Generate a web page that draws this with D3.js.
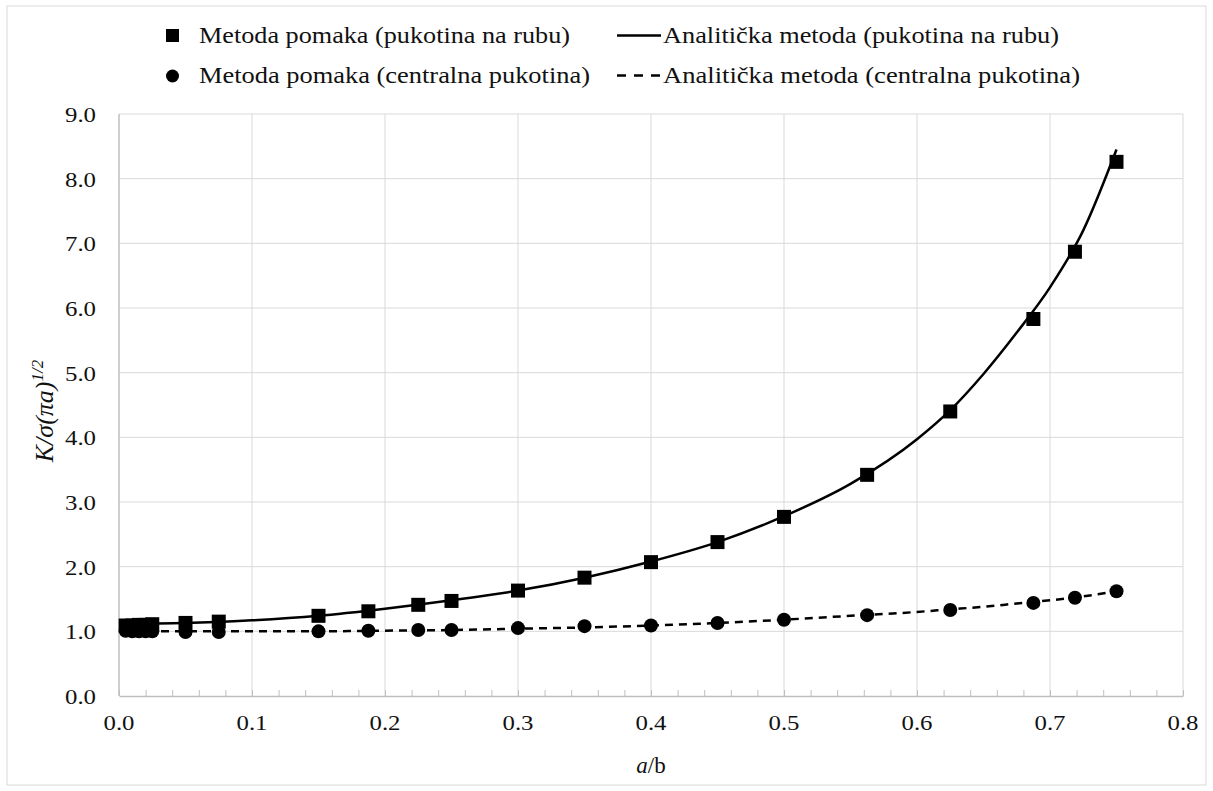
<!DOCTYPE html>
<html>
<head>
<meta charset="utf-8">
<script src="https://cdn.jsdelivr.net/npm/d3@7"></script>
<style>
  body { margin: 0; background: #fff; }
  text { font-family: "Liberation Serif", "Times New Roman", serif; fill: #111; }
</style>
</head>
<body>
<svg id="svg" width="1213" height="791"></svg>
<script>
// measured points (metoda pomaka)
const femX = [0.005, 0.01, 0.015, 0.02, 0.025, 0.05, 0.075, 0.15, 0.1875, 0.225, 0.25,
	0.3, 0.35, 0.4, 0.45, 0.5, 0.5625, 0.625, 0.6875, 0.71875, 0.75];
const femEdge = [1.09, 1.09, 1.10, 1.10, 1.11, 1.13, 1.15, 1.24, 1.31, 1.41, 1.47,
	1.63, 1.83, 2.07, 2.38, 2.77, 3.42, 4.40, 5.83, 6.87, 8.26];
const femCentral = [1.01, 1.00, 1.00, 1.00, 1.00, 0.99, 0.99, 1.00, 1.01, 1.02, 1.02,
	1.05, 1.08, 1.09, 1.13, 1.18, 1.25, 1.33, 1.44, 1.52, 1.62];

// analytical curves
const anaX = [0, 0.05, 0.1, 0.15, 0.2, 0.25, 0.3, 0.35, 0.4, 0.45, 0.5, 0.55, 0.6,
	0.625, 0.65, 0.675, 0.7, 0.725, 0.75];
const anaEdge = [1.12, 1.13, 1.17, 1.24, 1.35, 1.48, 1.63, 1.83, 2.08, 2.38, 2.78, 3.28, 3.97,
	4.42, 4.98, 5.62, 6.32, 7.2, 8.45];
const anaCentral = [1.00, 1.00, 1.00, 1.00, 1.01, 1.02, 1.04, 1.06, 1.09, 1.13, 1.18, 1.24, 1.30,
	1.34, 1.38, 1.43, 1.48, 1.54, 1.62];

const xTicks = [0, 0.1, 0.2, 0.3, 0.4, 0.5, 0.6, 0.7, 0.8];
const yTicks = [0, 1, 2, 3, 4, 5, 6, 7, 8, 9];
const legendLabels = [
	'Metoda pomaka (pukotina na rubu)',
	'Analitička metoda (pukotina na rubu)',
	'Metoda pomaka (centralna pukotina)',
	'Analitička metoda (centralna pukotina)'
];

const svg = d3.select('#svg');
const plotL = 119, plotR = 1183, plotT = 114, plotB = 696;

const x = d3.scaleLinear().domain([0, 0.8]).range([plotL, plotR]);
const y = d3.scaleLinear().domain([0, 9]).range([plotB, plotT]);

// chart frame
svg.append('rect')
	.attr('x', 7).attr('y', 6).attr('width', 1199).attr('height', 779)
	.attr('fill', 'none').attr('stroke', '#d9d9d9');

// grid
svg.append('g')
	.selectAll('line')
	.data(yTicks.slice(1))
	.enter()
	.append('line')
	.attr('x1', plotL).attr('x2', plotR)
	.attr('y1', (d) => y(d)).attr('y2', (d) => y(d))
	.attr('stroke', '#d9d9d9').attr('stroke-width', 1);
svg.append('g')
	.selectAll('line')
	.data(xTicks.slice(1))
	.enter()
	.append('line')
	.attr('x1', (d) => x(d)).attr('x2', (d) => x(d))
	.attr('y1', plotT).attr('y2', plotB)
	.attr('stroke', '#d9d9d9').attr('stroke-width', 1);

// axes
const xAxis = svg.append('g')
	.attr('transform', `translate(0,${plotB})`)
	.call(d3.axisBottom(x).tickValues(d3.range(0, 0.8001, 0.02)).tickSize(-6).tickSizeOuter(0).tickFormat(''));
xAxis.select('.domain').attr('stroke', '#bfbfbf').attr('stroke-width', 1.5);
xAxis.selectAll('.tick line').attr('stroke', '#bfbfbf');

svg.append('line')
	.attr('x1', plotL).attr('x2', plotL).attr('y1', plotT).attr('y2', plotB)
	.attr('stroke', '#bfbfbf').attr('stroke-width', 1.5);

svg.append('g')
	.selectAll('text')
	.data(xTicks)
	.enter()
	.append('text')
	.attr('x', (d) => x(d))
	.attr('y', 730)
	.attr('text-anchor', 'middle')
	.attr('textLength', 31).attr('lengthAdjust', 'spacingAndGlyphs')
	.style('font-size', '22px')
	.text((d) => d3.format('.1f')(d));

svg.append('g')
	.selectAll('text')
	.data(yTicks)
	.enter()
	.append('text')
	.attr('x', 96)
	.attr('y', (d) => y(d) + 8)
	.attr('text-anchor', 'end')
	.attr('textLength', 31).attr('lengthAdjust', 'spacingAndGlyphs')
	.style('font-size', '22px')
	.text((d) => d3.format('.1f')(d));

// axis titles
const xt = svg.append('text')
	.attr('x', 651).attr('y', 773)
	.attr('text-anchor', 'middle')
	.style('font-size', '23px');
xt.append('tspan').style('font-style', 'italic').text('a');
xt.append('tspan').text('/b');

const yt = svg.append('text')
	.attr('transform', 'translate(53,411) rotate(-90)')
	.attr('text-anchor', 'middle')
	.style('font-size', '26px')
	.style('font-style', 'italic');
yt.append('tspan').text('K/σ(πa)');
yt.append('tspan').attr('dy', -10).style('font-size', '17px').text('1/2');

// curves
const line = d3.line()
	.x((d) => x(d[0]))
	.y((d) => y(d[1]))
	.curve(d3.curveMonotoneX);

svg.append('path')
	.datum(anaX.map((v, i) => [v, anaEdge[i]]))
	.attr('d', line)
	.attr('fill', 'none').attr('stroke', '#000').attr('stroke-width', 2.5);

svg.append('path')
	.datum(anaX.map((v, i) => [v, anaCentral[i]]))
	.attr('d', line)
	.attr('fill', 'none').attr('stroke', '#000').attr('stroke-width', 2.5)
	.attr('stroke-dasharray', '8,6');

// markers
svg.append('g')
	.selectAll('rect')
	.data(femX.map((v, i) => [v, femEdge[i]]))
	.enter()
	.append('rect')
	.attr('x', (d) => x(d[0]) - 7)
	.attr('y', (d) => y(d[1]) - 7)
	.attr('width', 14).attr('height', 14)
	.attr('fill', '#000');

svg.append('g')
	.selectAll('circle')
	.data(femX.map((v, i) => [v, femCentral[i]]))
	.enter()
	.append('circle')
	.attr('cx', (d) => x(d[0]))
	.attr('cy', (d) => y(d[1]))
	.attr('r', 7)
	.attr('fill', '#000');

// legend
const lg = svg.append('g');
lg.append('rect').attr('x', 166).attr('y', 29).attr('width', 13).attr('height', 13).attr('fill', '#000');
lg.append('circle').attr('cx', 172.5).attr('cy', 76).attr('r', 6.5).attr('fill', '#000');
lg.append('line').attr('x1', 617).attr('x2', 661).attr('y1', 35.5).attr('y2', 35.5)
	.attr('stroke', '#000').attr('stroke-width', 2.5);
lg.append('line').attr('x1', 617).attr('x2', 660).attr('y1', 75.5).attr('y2', 75.5)
	.attr('stroke', '#000').attr('stroke-width', 2.5).attr('stroke-dasharray', '9,8');

const legendPos = [[199, 43], [663, 43], [199, 83], [663, 83]];
const legendW = [371, 396, 391, 417];
lg.selectAll('text')
	.data(legendLabels)
	.enter()
	.append('text')
	.attr('x', (d, i) => legendPos[i][0])
	.attr('y', (d, i) => legendPos[i][1])
	.attr('textLength', (d, i) => legendW[i]).attr('lengthAdjust', 'spacingAndGlyphs')
	.style('font-size', '23px')
	.text((d) => d);
</script>
</body>
</html>
